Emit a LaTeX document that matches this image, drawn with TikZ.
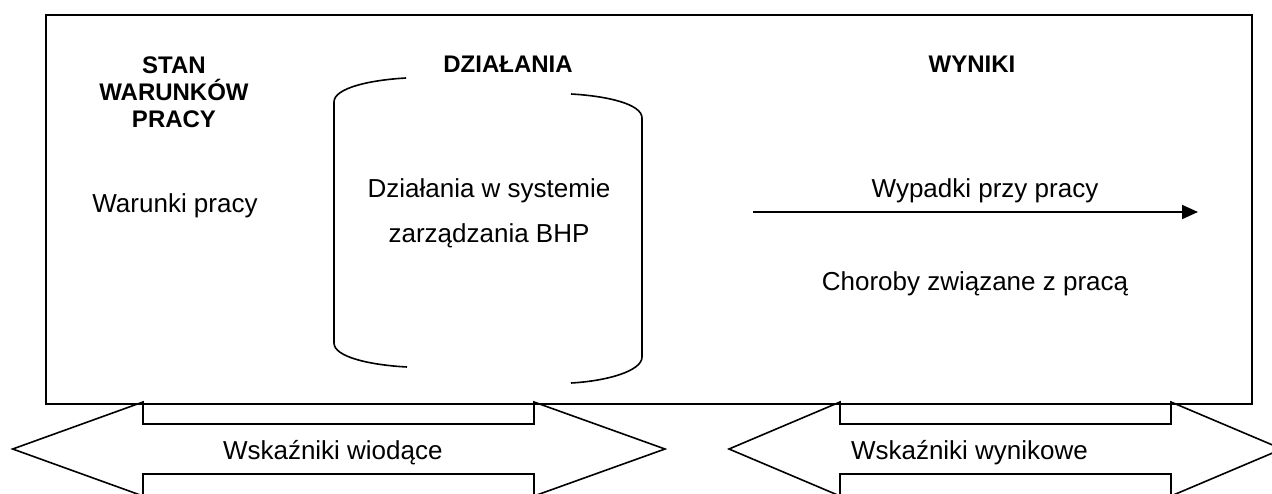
\documentclass[tikz,border=0pt]{standalone}
\usepackage{fontspec}
\setmainfont{Liberation Sans}
\usetikzlibrary{arrows.meta}

\begin{document}
\begin{tikzpicture}[x=1pt, y=-1pt, line width=2pt,
  lbl/.style={inner sep=0pt, anchor=base, font=\fontsize{26}{45}\selectfont},
  hdr/.style={inner sep=0pt, anchor=base, align=center, font=\fontsize{24}{27}\selectfont\bfseries},
  outline/.style={line width=1.6pt, line join=miter},
  tip/.style={-{Triangle[length=16pt, width=14pt]}}]
\useasboundingbox (0,0) rectangle (1272,493);
\clip (0,0) rectangle (1272,493);

% outer frame
\node (frame) [draw, inner sep=0pt, anchor=north west,
  minimum width=1206pt, minimum height=389pt] at (45,14) {};

% column headers (a multi-line node sits on the baseline of its last line)
\node[hdr] (stan) at (174,127) {STAN\\WARUNKÓW\\PRACY};
\node[hdr] (dzialania) at (508,72) {DZIAŁANIA};
\node[hdr] (wyniki) at (972,72) {WYNIKI};

% left column
\node[lbl] (warunki) at (175,212) {Warunki pracy};

% brackets around the management activities
\draw[outline] (406,78) .. controls (370,80) and (334,88) .. (334,102)
  -- (334,343) .. controls (334,357) and (370,365) .. (407,367);
\draw[outline] (571,94) .. controls (607,96) and (642,104) .. (642,118)
  -- (642,357) .. controls (642,371) and (607,381) .. (571,383);
\node[lbl, align=center] (system) at (489,242) {Działania w systemie\\zarządzania BHP};

% results column
\node[lbl] (wypadki) at (985,197) {Wypadki przy pracy};
\coordinate (arrS) at (753,212);
\coordinate (arrE) at (1198,212);
\draw[tip] (arrS) -- (arrE);
\node[lbl] (choroby) at (975,290) {Choroby związane z pracą};

% double-headed indicator arrows
\draw[outline] (143,424) -- (143,402) -- (12.7,449) -- (143,496) -- (143,474)
  -- (534,474) -- (534,496) -- (665,449) -- (534,402) -- (534,424) -- cycle;
\node[lbl, anchor=base west] (wiodace) at (222,459) {Wskaźniki wiodące};

\draw[outline] (840,424) -- (840,402) -- (729,449) -- (840,496) -- (840,474)
  -- (1171,474) -- (1171,496) -- (1282,449) -- (1171,402) -- (1171,424) -- cycle;
\node[lbl, anchor=base west] (wynikowe) at (850,459) {Wskaźniki wynikowe};
\end{tikzpicture}
\end{document}
